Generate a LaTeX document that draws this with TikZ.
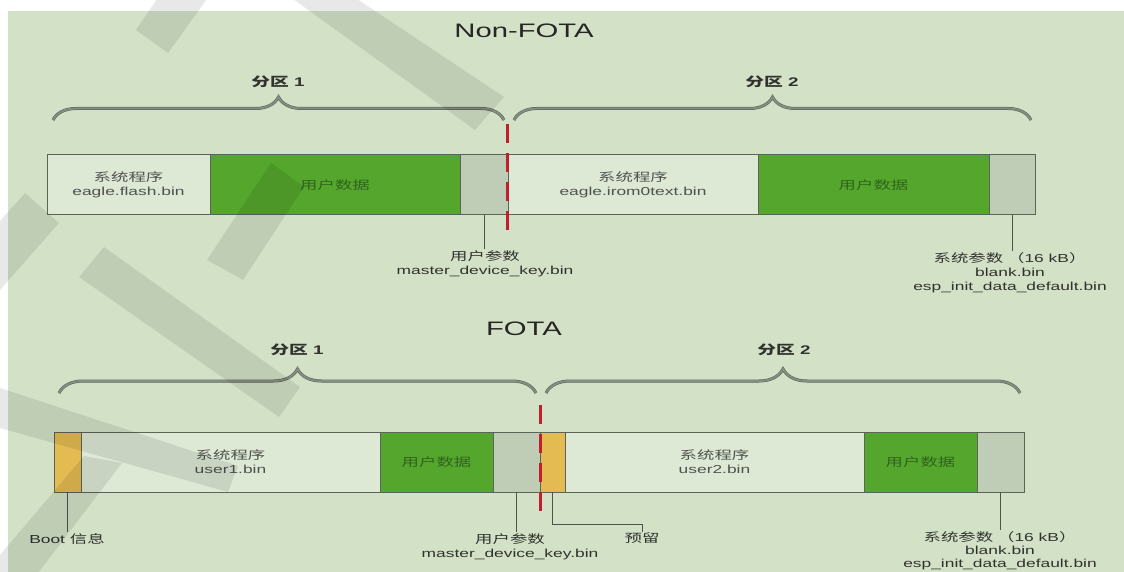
\documentclass[tikz,border=0pt]{standalone}
\usepackage{fontspec}
\setmainfont{Liberation Sans}[FakeStretch=1.5]
\newfontfamily\cjk{Noto Sans CJK SC}[FakeStretch=1.5]
\usetikzlibrary{positioning,decorations.pathreplacing}

\definecolor{bgcol}{RGB}{211,226,199}
\definecolor{syscol}{RGB}{221,232,213}
\definecolor{datcol}{RGB}{84,166,44}
\definecolor{parcol}{RGB}{191,204,182}
\definecolor{bootcol}{RGB}{227,187,82}
\definecolor{edgecol}{RGB}{92,100,88}
\definecolor{cutcol}{RGB}{192,32,46}
\definecolor{segtxt}{RGB}{80,82,78}
\definecolor{dattxt}{RGB}{48,100,30}
\definecolor{lbltxt}{RGB}{48,50,46}
\definecolor{brccol}{RGB}{132,142,128}
\definecolor{brcdark}{RGB}{88,96,86}

\tikzset{
  seg/.style={draw=edgecol, line width=1pt, minimum height=60pt, inner sep=0pt, outer sep=0pt,
    align=center, text=segtxt, font=\fontsize{11.6}{14}\selectfont},
  sysseg/.style={seg, fill=syscol},
  datseg/.style={seg, fill=datcol, text=dattxt},
  parseg/.style={seg, fill=parcol},
  bootseg/.style={seg, fill=bootcol},
  lbl/.style={align=center, inner sep=1pt, text=lbltxt, font=\fontsize{11.6}{14}\selectfont},
  plbl/.style={text=lbltxt, font=\fontsize{12.5}{15}\selectfont\bfseries},
  ttl/.style={text=black!85, font=\fontsize{19.5}{23}\selectfont},
  callout/.style={draw=lbltxt!85, line width=0.8pt},
  cut/.style={draw=cutcol, line width=3pt, dash pattern=on 19pt off 10pt},
  brc/.style={decorate, draw=brccol, line width=2pt},
  brcsh/.style={decorate, draw=brcdark, line width=3pt},
  wmband/.style={fill=black, opacity=0.09}
}

\begin{document}
\begin{tikzpicture}[x=1pt, y=-1pt]
\useasboundingbox (0,0) rectangle (1124,572);
\fill[white] (0,0) rectangle (1124,572);
\fill[bgcol] (8,11) rectangle (1124,572);

% Non-FOTA
\node[ttl] (t1) at (524,31) {Non-FOTA};
\node[plbl] (pa1) at (278,82) {{\cjk 分区} 1};
\node[plbl] (pa2) at (772,82) {{\cjk 分区} 2};
\coordinate (ba1) at (53,120);  \coordinate (bb1) at (504,120);
\coordinate (ba2) at (514,120); \coordinate (bb2) at (1031,120);

\node[sysseg, minimum width=163pt, anchor=north west] (p1sys) at (47,155) {{\cjk 系统程序}\\eagle.flash.bin};
\node[datseg, minimum width=250pt, right=0pt of p1sys] (p1dat) {{\cjk 用户数据}};
\node[parseg, minimum width=48pt, right=0pt of p1dat] (p1par) {};
\node[sysseg, minimum width=250pt, right=0pt of p1par] (p2sys) {{\cjk 系统程序}\\eagle.irom0text.bin};
\node[datseg, minimum width=231pt, right=0pt of p2sys] (p2dat) {{\cjk 用户数据}};
\node[parseg, minimum width=46pt, right=0pt of p2dat] (p2par) {};

\node[lbl, anchor=north] (k1) at (485,249) {{\cjk 用户参数}\\master\_device\_key.bin};
\node[lbl, anchor=north] (s1) at (1010,251) {{\cjk 系统参数 （}16 kB{\cjk ）}\\blank.bin\\esp\_init\_data\_default.bin};
\draw[callout] (p1par.south) -- (p1par.south |- k1.north);
\draw[callout] (p2par.south) -- (p2par.south |- s1.north);

\coordinate (ct1) at (507,124); \coordinate (cb1) at (507,233);
\draw[cut] (ct1) -- (cb1);

% FOTA
\node[ttl] (t2) at (524,329) {FOTA};
\node[plbl] (pa3) at (297,350) {{\cjk 分区} 1};
\node[plbl] (pa4) at (784,350) {{\cjk 分区} 2};
\coordinate (ba3) at (59,393);  \coordinate (bb3) at (536,393);
\coordinate (ba4) at (546,393); \coordinate (bb4) at (1020,393);

\node[bootseg, minimum width=27pt, anchor=north west] (q1boot) at (54,432) {};
\node[sysseg, minimum width=299pt, right=0pt of q1boot] (q1sys) {{\cjk 系统程序}\\user1.bin};
\node[datseg, minimum width=113pt, right=0pt of q1sys] (q1dat) {{\cjk 用户数据}};
\node[parseg, minimum width=47pt, right=0pt of q1dat] (q1par) {};
\node[bootseg, minimum width=25pt, right=0pt of q1par] (q2res) {};
\node[sysseg, minimum width=299pt, right=0pt of q2res] (q2sys) {{\cjk 系统程序}\\user2.bin};
\node[datseg, minimum width=113pt, right=0pt of q2sys] (q2dat) {{\cjk 用户数据}};
\node[parseg, minimum width=47pt, right=0pt of q2dat] (q2par) {};

\node[lbl, anchor=north] (b1) at (67,532) {Boot {\cjk 信息}};
\node[lbl, anchor=north] (k2) at (510,532) {{\cjk 用户参数}\\master\_device\_key.bin};
\node[lbl, anchor=north] (r2) at (642,532) {{\cjk 预留}};
\node[lbl, anchor=north, font=\fontsize{11.6}{13}\selectfont] (s2) at (1000,530) {{\cjk 系统参数 （}16 kB{\cjk ）}\\blank.bin\\esp\_init\_data\_default.bin};
\draw[callout] (q1boot.south) -- (q1boot.south |- b1.north);
\draw[callout] (q1par.south) -- (q1par.south |- k2.north);
\draw[callout] (q2res.south) -- ++(0,32) -| (r2.north);
\draw[callout] (q2par.south) -- (q2par.south |- s2.north);

\coordinate (ct2) at (540,405); \coordinate (cb2) at (540,513);
\draw[cut] (ct2) -- (cb2);

% braces
\foreach \l/\r/\amp in {ba1/bb1/23, ba2/bb2/23, ba3/bb3/24, ba4/bb4/24} {
  \draw[brcsh, yshift=-0.7pt, decoration={brace, amplitude=\amp pt}] (\l) -- (\r);
  \draw[brc, decoration={brace, amplitude=\amp pt}] (\l) -- (\r);
}

% watermark bands
\fill[wmband] (157,-1) -- (207,-1) -- (168,53) -- (136,30) -- cycle;
\fill[wmband] (293,-1) -- (357,-1) -- (504,97) -- (475,130) -- cycle;
\fill[wmband] (25,193) -- (59,223) -- (0,290) -- (0,221) -- cycle;
\fill[wmband] (207,260) -- (243,280) -- (304,187) -- (271,163) -- cycle;
\fill[wmband] (79,277) -- (104,247) -- (300,387) -- (279,417) -- cycle;
\fill[wmband] (0,388) -- (238,466) -- (228,492) -- (0,428) -- cycle;
\fill[wmband] (84,456) -- (122,463) -- (38,573) -- (0,573) -- (0,555) -- cycle;
\end{tikzpicture}
\end{document}
